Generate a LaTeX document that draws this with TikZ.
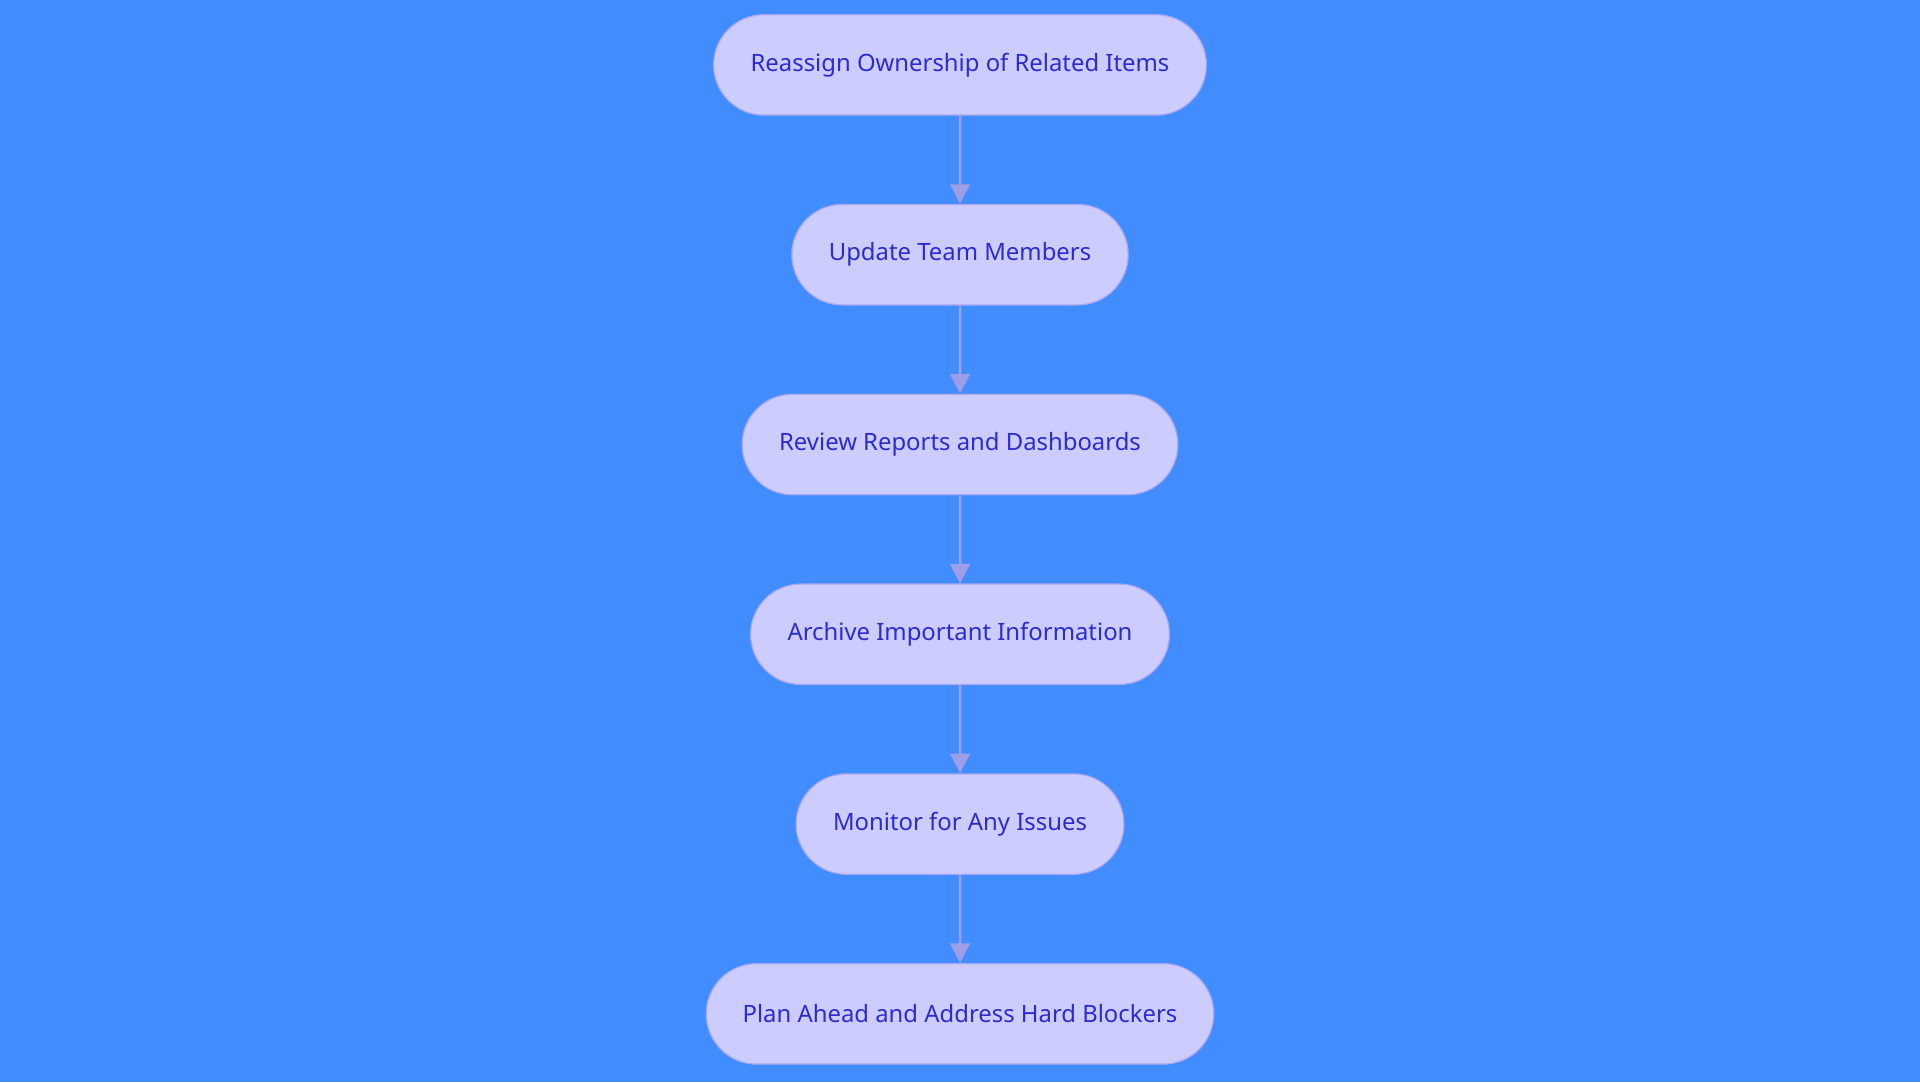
\documentclass[tikz,border=0pt]{standalone}
\usepackage{fontspec}
\setmainfont{Noto Sans}
\usetikzlibrary{shapes.misc,arrows.meta}
\definecolor{bg}{HTML}{418CFF}
\definecolor{nfill}{HTML}{CCCCFF}
\definecolor{nline}{HTML}{A8A8F0}
\definecolor{ntext}{HTML}{2B2BCF}
\definecolor{arr}{HTML}{9D9DE8}
\begin{document}
\begin{tikzpicture}[x=1pt,y=-1pt,
  stage/.style={rounded rectangle,draw=nline,line width=1pt,fill=nfill,text=ntext,
    font=\fontsize{19.5}{22}\selectfont,minimum height=82pt,inner xsep=29pt},
  link/.style={draw=arr,line width=2pt,-{Triangle[length=16pt,width=16pt]}}]
\fill[bg] (0,0) rectangle (1568,884);
\useasboundingbox (0,0) rectangle (1568,884);
\node[stage] (a) at (784,53) {Reassign Ownership of Related Items};
\node[stage] (b) at (784,208) {Update Team Members};
\node[stage] (c) at (784,363) {Review Reports and Dashboards};
\node[stage] (d) at (784,518) {Archive Important Information};
\node[stage] (e) at (784,673) {Monitor for Any Issues};
\node[stage] (f) at (784,828) {Plan Ahead and Address Hard Blockers};
\draw[link] (a) -- (b);
\draw[link] (b) -- (c);
\draw[link] (c) -- (d);
\draw[link] (d) -- (e);
\draw[link] (e) -- (f);
\end{tikzpicture}
\end{document}
